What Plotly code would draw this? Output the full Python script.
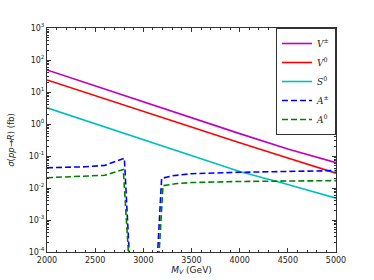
import plotly.graph_objects as go
import numpy as np

# ---- data ----
mass = [2000, 2500, 3000, 3500, 4000, 4500, 5000]
v_pm = [49, 15.5, 4.9, 1.55, 0.5, 0.165, 0.062]
v_0 = [23.7, 7.6, 2.4, 0.77, 0.26, 0.087, 0.029]
s_0 = [3.2, 1.01, 0.32, 0.099, 0.033, 0.0129, 0.0048]

a_pm_mass = [2000, 2200, 2400, 2600, 2700, 2803, 2870, None, 3131, 3190, 3300, 3500, 4000, 4500, 5000]
a_pm = [0.043, 0.044, 0.046, 0.051, 0.065, 0.085, 1e-5, None, 1e-5, 0.020, 0.024, 0.028, 0.031, 0.033, 0.035]

a_0_mass = [2000, 2200, 2400, 2600, 2700, 2792, 2865, None, 3145, 3204, 3350, 3500, 4000, 4500, 5000]
a_0 = [0.021, 0.022, 0.023, 0.025, 0.031, 0.038, 1e-5, None, 1e-5, 0.0118, 0.0138, 0.0148, 0.016, 0.0165, 0.017]

series = [
    ("<i>V</i><sup>±</sup>", mass, v_pm, "#bf00bf", "solid"),
    ("<i>V</i><sup>0</sup>", mass, v_0, "#ff0000", "solid"),
    ("<i>S</i><sup>0</sup>", mass, s_0, "#00bfbf", "solid"),
    ("<i>A</i><sup>±</sup>", a_pm_mass, a_pm, "#0000ff", "6px,3px"),
    ("<i>A</i><sup>0</sup>", a_0_mass, a_0, "#008000", "6px,3px"),
]

y_tickvals = [1e-4, 1e-3, 1e-2, 1e-1, 1, 10, 100, 1000]
y_ticktext = ["10<sup>-4</sup>", "10<sup>-3</sup>", "10<sup>-2</sup>", "10<sup>-1</sup>",
              "10<sup>0</sup>", "10<sup>1</sup>", "10<sup>2</sup>", "10<sup>3</sup>"]
x_tickvals = [2000, 2500, 3000, 3500, 4000, 4500, 5000]

fig = go.Figure()
for name, xs, ys, color, dash in series:
    fig.add_trace(go.Scatter(x=xs, y=ys, mode="lines", name=name,
                             line=dict(color=color, width=1.6, dash=dash),
                             connectgaps=False))

y_minor = [m * 10.0**e for e in range(-4, 3) for m in range(2, 10)]
x_minor = list(range(2100, 5000, 100))

fig.update_layout(
    width=374, height=280,
    margin=dict(l=47, r=38, t=28, b=28, autoexpand=False),
    paper_bgcolor="white", plot_bgcolor="white",
    font=dict(family="DejaVu Sans", size=8, color="#222222"),
    showlegend=True,
    legend=dict(x=1, y=1, xanchor="right", yanchor="top",
                bgcolor="white", bordercolor="#333333", borderwidth=1,
                font=dict(family="DejaVu Serif", size=9),
                tracegroupgap=0, itemwidth=30),
)
fig.update_xaxes(
    range=[2000, 5000], tickvals=x_tickvals, automargin=False,
    showline=True, linecolor="#333333", linewidth=1, mirror="ticks",
    ticks="inside", ticklen=4, tickcolor="#333333",
    minor=dict(tickvals=x_minor, ticks="inside", ticklen=2, tickcolor="#333333"),
    showgrid=False, zeroline=False,
    title=dict(text="<i>M</i><sub><i>V</i></sub> (GeV)", font=dict(size=9), standoff=0),
)
fig.update_yaxes(
    type="log", range=[-4, 3], tickvals=y_tickvals, ticktext=y_ticktext, automargin=False,
    showline=True, linecolor="#333333", linewidth=1, mirror="ticks",
    ticks="inside", ticklen=4, tickcolor="#333333",
    minor=dict(tickvals=y_minor, ticks="inside", ticklen=2, tickcolor="#333333"),
    showgrid=False, zeroline=False,
    title=dict(text="<i>σ</i>(<i>pp</i>→<i>R</i>) (fb)", font=dict(size=8.5), standoff=12),
)

fig.write_html("out.html", config={"displayModeBar": False},
               post_script="document.body.style.margin='0';")
